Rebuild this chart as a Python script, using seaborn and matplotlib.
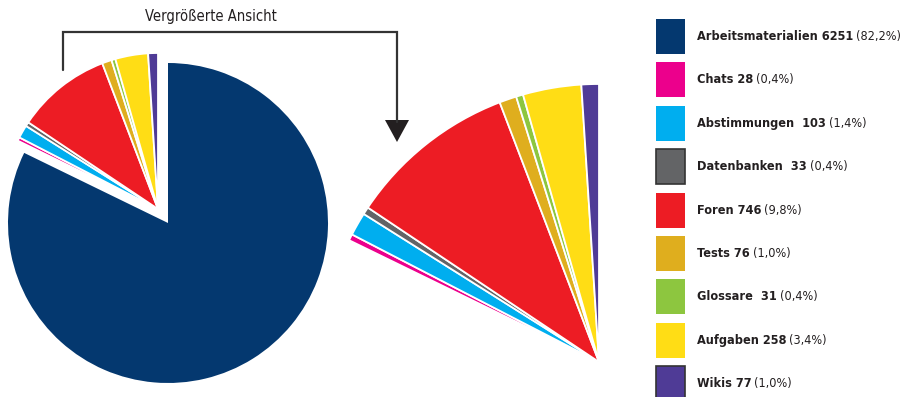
import matplotlib.pyplot as plt
import seaborn as sns
from matplotlib import font_manager as fm

sns.set_theme(style="white")

# pick the narrowest sans that is installed
fonts = fm.fontManager.ttflist
if any(f.name == 'Liberation Sans Narrow' for f in fonts):
    family, stretch = 'Liberation Sans Narrow', 'normal'
elif any(f.name == 'DejaVu Sans' and f.stretch == 'condensed' for f in fonts):
    family, stretch = 'DejaVu Sans', 'condensed'
else:
    family, stretch = 'Liberation Sans', 'normal'
plt.rcParams['font.family'] = [family, 'DejaVu Sans']
plt.rcParams['font.stretch'] = stretch

# data
names = ['Arbeitsmaterialien', 'Chats', 'Abstimmungen ', 'Datenbanken ', 'Foren',
         'Tests', 'Glossare ', 'Aufgaben', 'Wikis']
counts = [6251, 28, 103, 33, 746, 76, 31, 258, 77]
percent = ['82,2%', '0,4%', '1,4%', '0,4%', '9,8%', '1,0%', '0,4%', '3,4%', '1,0%']
colors = ['#04386f', '#ec008c', '#00aeef', '#636466', '#ed1c24',
          '#dfae1e', '#8dc63f', '#ffdd15', '#4f3b96']
border = [False, False, False, True, False, False, False, False, True]
title = 'Vergrößerte Ansicht'

W, H = 901, 397
fig = plt.figure(figsize=(W / 100, H / 100), dpi=100)
ax = fig.add_axes([0, 0, 1, 1])
ax.set_xlim(0, W)
ax.set_ylim(0, H)


def fit_size(s, width, **kw):
    # font size that makes s about `width` pixels wide
    r = fig.canvas.get_renderer()
    t = ax.text(0, 0, s, fontsize=10, **kw)
    w = t.get_window_extent(r).width
    t.remove()
    return 10 * width / w


# the probe is all bold, the real row is part regular -> a bit narrower
fs = min(12.5, fit_size(f'{names[0]} {counts[0]} ({percent[0]})', 208,
                        fontweight='bold'))
fs_title = min(12.5, fit_size(title, 131))

wp = dict(edgecolor='white', linewidth=1.3)

# main pie: big slice only
w1, _ = ax.pie(counts, colors=colors, startangle=90, counterclock=False,
               center=(168, H - 223), radius=160, frame=True,
               wedgeprops=dict(edgecolor='none', linewidth=0))
for w in w1[1:]:
    w.set_visible(False)

# small slices pulled out
w2, _ = ax.pie(counts, colors=colors, startangle=90, counterclock=False,
               center=(158, H - 209), radius=156, frame=True, wedgeprops=wp)
w2[0].set_visible(False)

# enlarged view
w3, _ = ax.pie(counts, colors=colors, startangle=90, counterclock=False,
               center=(599, H - 362), radius=278, frame=True, wedgeprops=wp)
w3[0].set_visible(False)

# bracket + arrow
ax.plot([63, 63, 397, 397], [H - 70, H - 32, H - 32, H - 122],
        color='#333333', lw=1.6, solid_joinstyle='miter')
ax.fill([385, 409, 397], [H - 120, H - 120, H - 142], color='#231f20', lw=0)
ax.text(211, H - 16, title, ha='center', va='center',
        fontsize=fs_title, color='#231f20')

# legend
for i, (n, c, p, col, b) in enumerate(zip(names, counts, percent, colors, border)):
    top = 19 + 43.4 * i
    ax.add_patch(plt.Rectangle((656, H - top - 35), 29, 35, facecolor=col,
                               edgecolor='#333333' if b else 'none', lw=1.2))
    t = ax.text(697, H - top - 17.5, f'{n} {c}', ha='left', va='center',
                fontsize=fs, fontweight='bold', color='#231f20')
    ax.annotate(f'({p})', xy=(1, 0), xycoords=t, xytext=(2, 0),
                textcoords='offset points', ha='left', va='bottom',
                fontsize=fs, color='#231f20')

ax.set_xlim(0, W)
ax.set_ylim(0, H)
ax.set_aspect('equal')
ax.axis('off')

fig.savefig('out.png', dpi=100)
